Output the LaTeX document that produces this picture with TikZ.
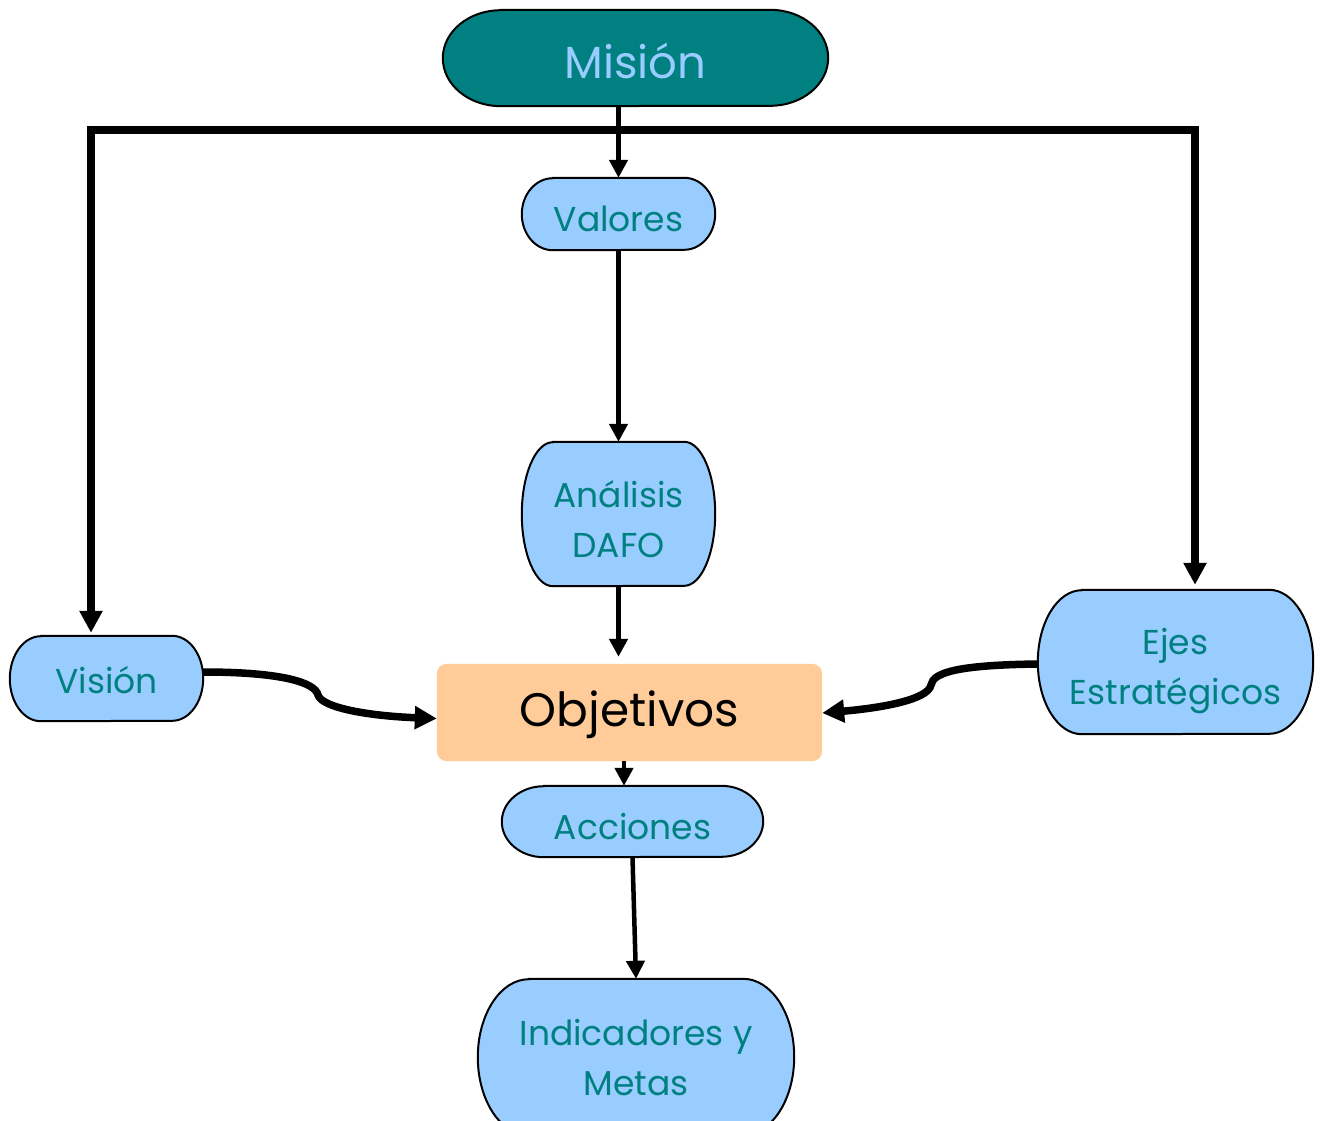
\documentclass[tikz,border=0pt]{standalone}
\usepackage{fontspec}
\setmainfont{Poppins}
\usetikzlibrary{arrows.meta,backgrounds}
\definecolor{tealA}{RGB}{0,128,128}
\definecolor{lblue}{RGB}{153,204,255}
\definecolor{peach}{RGB}{255,204,153}
% name, x radius, y radius, style
\newcommand\termshape[4]{%
  \path[#4] ([xshift=#2]#1.north west) -- ([xshift=-#2]#1.north east)
    arc[start angle=90,end angle=-90,x radius=#2,y radius=#3]
    -- ([xshift=#2]#1.south west)
    arc[start angle=270,end angle=90,x radius=#2,y radius=#3] -- cycle;}
\newcommand\lowered[2]{\raisebox{-#1}[\height][\depth]{\begin{tabular}{@{}c@{}}#2\end{tabular}}}
\begin{document}
\begin{tikzpicture}[x=1pt,y=-1pt,
  box/.style={inner sep=0pt,align=center,text=tealA,
    font=\fontsize{34.5}{50}\selectfont},
  termfill/.style={fill=lblue,draw=black,line width=2pt},
  thinarrow/.style={line width=4.5pt,-{Triangle[length=18pt,width=18pt]}},
  thickarrow/.style={line width=7.5pt,-{Triangle[length=22pt,width=22pt]}}]
\useasboundingbox (0,0) rectangle (1322,1120);

\node[box,minimum width=385pt,minimum height=96pt,text=lblue,
  font=\fontsize{45}{50}\selectfont] (mision) at (635.5,58) {\lowered{10pt}{Misión}};
\node[box,minimum width=193pt,minimum height=72pt] (valores) at (618.5,214) {\lowered{7pt}{Valores}};
\node[box,minimum width=193pt,minimum height=144pt] (dafo) at (618.5,514) {\lowered{8pt}{Análisis\\DAFO}};
\node[box,minimum width=193pt,minimum height=85pt] (vision) at (106.5,678.5) {\lowered{5pt}{Visión}};
\node[box,minimum width=275pt,minimum height=144pt] (ejes) at (1175.5,662) {\lowered{7pt}{Ejes\\Estratégicos}};
\node[box,minimum width=385pt,minimum height=97pt,text=black,
  font=\fontsize{47}{50}\selectfont] (obj) at (629.5,712.5) {\lowered{4pt}{Objetivos}};
\node[box,minimum width=261pt,minimum height=71pt] (acciones) at (632.5,821.5) {\lowered{8pt}{Acciones}};
\node[box,minimum width=316pt,minimum height=156pt] (indic) at (636,1057) {\lowered{3pt}{Indicadores y\\Metas}};

\begin{scope}[on background layer]
  \termshape{mision}{58pt}{48pt}{fill=tealA,draw=black,line width=2pt}
  \termshape{valores}{31pt}{36pt}{termfill}
  \termshape{dafo}{31pt}{72pt}{termfill}
  \termshape{vision}{31pt}{42.5pt}{termfill}
  \termshape{ejes}{44pt}{72pt}{termfill}
  \termshape{acciones}{42pt}{35.5pt}{termfill}
  \termshape{indic}{51pt}{78pt}{termfill}
  \fill[peach,rounded corners=10pt] (obj.north west) rectangle (obj.south east);
\end{scope}

\coordinate (bl) at (91,130);
\coordinate (br) at (1195,130);

\draw[line width=7.5pt,line join=miter,
  {Triangle[length=22pt,width=22pt]}-{Triangle[length=22pt,width=22pt]}]
  ([yshift=3pt]bl |- vision.north) -- (bl) -- (br) -- ([yshift=5pt]br |- ejes.north);

\draw[thinarrow] (valores.north |- mision.south) -- (valores.north);
\draw[thinarrow] (valores.south) -- (dafo.north);
\draw[thinarrow] (dafo.south) -- ([yshift=7pt]dafo.south |- obj.north);
\draw[thinarrow] ([xshift=-5.5pt]obj.south) -- ([xshift=-8.5pt]acciones.north);
\draw[thinarrow] (acciones.south) -- (indic.north);

\draw[thickarrow] ([yshift=6.5pt]vision.east)
  .. controls (280,672) and (315,682) .. (318,695)
  .. controls (322,708) and (370,716) .. ([yshift=-6pt]obj.west);
\draw[thickarrow] ([yshift=-2pt]ejes.west)
  .. controls (960,665) and (933,672) .. (931,685)
  .. controls (928,700) and (880,708) .. ([yshift=-0.5pt]obj.east);
\end{tikzpicture}
\end{document}
